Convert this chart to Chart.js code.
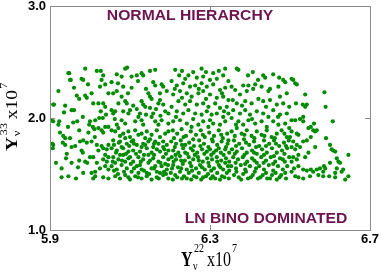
<!DOCTYPE html>
<html>
<head>
<meta charset="utf-8">
<script src="https://cdn.jsdelivr.net/npm/chart.js@4.4.1/dist/chart.umd.min.js"></script>
<style>
  html, body { margin: 0; padding: 0; background: #fff; }
  canvas { display: block; }
</style>
</head>
<body>
<canvas id="grafico" width="381" height="273"></canvas>
<script>
// Ticks dos eixos
const xTicks = [5.9, 6.3, 6.7];
const yTicks = [1.0, 2.0, 3.0];

// Pontos [Yv22, Yv33], separados por faixa de x
const faixa590 = [
  [5.988,2.44],[6.017,2.42],[6.027,2.42],[5.948,2.40],[6.033,2.38],[6.029,2.34],[6.038,2.30],[6.025,2.28],
  [5.979,2.35],[5.983,2.34],[5.952,2.34],[5.921,2.24],[5.967,2.20],[5.973,2.17],[5.988,2.20],[5.992,2.18],
  [6.004,2.22],[6.046,2.22],[5.910,2.12],[5.938,2.11],[5.935,2.05],[6.008,2.13],[6.021,2.13],[6.033,2.13],
  [6.038,2.10],[5.954,2.07],[5.960,2.07],[5.982,2.01],[5.908,1.97],[5.923,1.97],[5.921,1.94],[5.958,1.96],
  [5.968,1.97],[6.000,1.97],[6.013,1.98],[6.023,2.00],[6.032,2.00],[5.998,1.94],[6.007,1.92],[6.011,1.90],
  [6.021,1.91],[6.029,1.89],[6.033,1.87],[6.046,1.92],[6.038,1.92],[5.973,1.89],[5.933,1.84],[5.938,1.82],
  [5.950,1.82],[5.932,1.78],[5.938,1.76],[5.908,1.76],[5.907,1.73],[5.975,1.79],[5.983,1.80],[5.992,1.78],
  [6.004,1.79],[5.954,1.74],[5.963,1.75],[6.029,1.75],[6.033,1.73],[6.042,1.72],[6.046,1.76],[6.021,1.71],
  [6.017,1.76],[5.979,1.71],[5.982,1.69],[5.942,1.68],[5.940,1.64],[6.000,1.65],[6.008,1.65],[6.038,1.67],
  [6.046,1.65],[6.033,1.63],[6.042,1.61],[5.954,1.60],[5.973,1.62],[5.988,1.61],[5.993,1.60],[6.017,1.60],
  [5.929,1.55],[6.025,1.55],[6.038,1.57],[6.046,1.54],[6.013,1.52],[6.004,1.51],[6.013,1.48],[5.929,1.47],
  [5.946,1.48],[5.965,1.46],[5.983,1.51],[6.008,1.46],[6.033,1.47],[6.046,1.46],[5.904,1.98],[5.906,1.77],
  [5.908,2.12],[5.946,2.40],[5.950,2.34],
  [5.915,1.60],[5.925,1.87],[5.945,1.92],[5.960,2.27],[5.995,2.30],[6.012,1.83],[6.040,2.03],[5.970,1.56],
  [6.027,2.06],[5.996,1.87]
];

const faixa605 = [
  [6.088,2.44],[6.093,2.45],[6.067,2.39],[6.079,2.37],[6.104,2.37],[6.117,2.38],[6.129,2.40],[6.133,2.38],
  [6.150,2.42],[6.163,2.43],[6.054,2.32],[6.104,2.27],[6.083,2.28],[6.158,2.32],[6.163,2.29],[6.179,2.30],
  [6.183,2.28],[6.175,2.22],[6.192,2.24],[6.058,2.22],[6.067,2.24],[6.079,2.19],[6.088,2.15],[6.092,2.13],
  [6.146,2.22],[6.150,2.19],[6.154,2.17],[6.129,2.15],[6.133,2.12],[6.138,2.10],[6.171,2.13],[6.175,2.16],
  [6.183,2.12],[6.071,2.13],[6.054,2.07],[6.063,2.06],[6.058,2.04],[6.083,2.06],[6.096,2.04],[6.100,2.07],
  [6.117,2.08],[6.125,2.04],[6.121,2.01],[6.150,2.09],[6.158,2.04],[6.154,2.01],[6.188,2.06],[6.196,2.04],
  [6.079,1.98],[6.088,1.95],[6.067,1.94],[6.113,1.97],[6.129,1.98],[6.133,1.94],[6.163,1.97],[6.171,1.94],
  [6.179,1.98],[6.196,1.95],
  [6.070,2.31],[6.120,2.33],[6.140,2.26],[6.095,2.22],[6.165,2.08],[6.108,2.11],[6.140,2.03],[6.062,1.99],
  [6.176,2.02],
  [6.054,1.89],[6.063,1.88],[6.071,1.91],[6.083,1.86],[6.096,1.88],[6.100,1.83],[6.113,1.89],[6.121,1.85],
  [6.129,1.86],[6.138,1.82],[6.142,1.88],[6.154,1.85],[6.167,1.89],[6.175,1.83],[6.188,1.86],[6.196,1.88],
  [6.058,1.80],[6.075,1.79],[6.088,1.82],[6.092,1.77],[6.104,1.79],[6.117,1.76],[6.133,1.77],[6.146,1.79],
  [6.158,1.74],[6.171,1.77],[6.183,1.79],[6.192,1.76],[6.054,1.73],[6.067,1.71],[6.079,1.74],[6.096,1.70],
  [6.108,1.71],[6.125,1.70],[6.142,1.73],[6.154,1.69],[6.175,1.70],[6.196,1.71],[6.083,1.73],[6.129,1.74],
  [6.167,1.72],[6.183,1.74],[6.075,1.84],[6.108,1.80],[6.150,1.81],[6.163,1.79],
  [6.058,1.65],[6.071,1.63],[6.083,1.67],[6.096,1.64],[6.108,1.61],[6.121,1.65],[6.133,1.63],[6.146,1.60],
  [6.158,1.64],[6.171,1.61],[6.183,1.65],[6.196,1.63],[6.054,1.57],[6.067,1.54],[6.079,1.58],[6.092,1.55],
  [6.104,1.52],[6.117,1.57],[6.129,1.54],[6.142,1.51],[6.154,1.55],[6.167,1.52],[6.179,1.57],[6.192,1.54],
  [6.063,1.48],[6.075,1.46],[6.088,1.49],[6.100,1.45],[6.113,1.48],[6.129,1.46],[6.142,1.48],[6.154,1.45],
  [6.167,1.47],[6.183,1.49],[6.196,1.46],[6.088,1.61],[6.125,1.58],[6.163,1.57],[6.188,1.59],[6.100,1.65],
  [6.146,1.67],[6.075,1.67],[6.175,1.51],[6.121,1.51],[6.063,1.60],
  [6.060,1.76],[6.072,1.78],[6.098,1.75],[6.110,1.77],[6.138,1.76],[6.160,1.77],[6.186,1.72],[6.065,1.69],
  [6.090,1.68],[6.115,1.68],[6.135,1.67],[6.160,1.67],[6.190,1.68],[6.057,1.61],[6.080,1.62],[6.102,1.59],
  [6.127,1.61],[6.150,1.62],[6.176,1.60],[6.195,1.58],[6.060,1.53],[6.085,1.52],[6.110,1.55],[6.135,1.53],
  [6.160,1.55],[6.185,1.52],[6.070,1.50],[6.096,1.47],[6.120,1.47],[6.148,1.50],[6.172,1.46],[6.190,1.50]
];

const faixa620 = [
  [6.279,2.44],[6.338,2.44],[6.258,2.41],[6.213,2.43],[6.308,2.40],[6.223,2.38],[6.246,2.38],[6.238,2.35],
  [6.267,2.36],[6.283,2.37],[6.300,2.34],[6.317,2.35],[6.333,2.38],[6.346,2.33],[6.204,2.33],[6.217,2.29],
  [6.233,2.31],[6.250,2.28],[6.263,2.29],[6.279,2.31],[6.292,2.28],[6.308,2.30],[6.325,2.25],[6.338,2.27],
  [6.208,2.21],[6.225,2.24],[6.242,2.22],[6.254,2.19],[6.271,2.22],[6.283,2.24],[6.300,2.21],[6.317,2.18],
  [6.333,2.19],[6.346,2.16],[6.221,2.15],[6.238,2.12],[6.250,2.15],[6.267,2.12],[6.283,2.13],[6.296,2.10],
  [6.313,2.13],[6.325,2.09],[6.342,2.10],[6.204,2.10],[6.217,2.06],[6.233,2.04],[6.246,2.07],[6.263,2.04],
  [6.279,2.03],[6.292,2.06],[6.304,2.03],[6.317,2.04],[6.333,2.01],[6.346,2.04],[6.208,1.97],[6.225,1.98],
  [6.242,1.95],[6.254,1.92],[6.271,1.94],[6.283,1.97],[6.296,1.92],[6.308,1.95],[6.325,1.94],[6.338,1.97],
  [6.230,2.42],[6.290,2.41],[6.322,2.42],[6.212,2.26],[6.272,2.26],[6.330,2.22],[6.230,2.18],[6.290,2.17],
  [6.215,2.01],[6.258,1.99],[6.300,1.98],[6.335,2.06],
  [6.207,1.89],[6.218,1.86],[6.229,1.90],[6.240,1.84],[6.252,1.88],[6.265,1.85],[6.277,1.89],[6.287,1.83],
  [6.298,1.87],[6.310,1.84],[6.322,1.89],[6.332,1.82],[6.343,1.86],[6.203,1.79],[6.215,1.77],[6.227,1.80],
  [6.238,1.76],[6.248,1.78],[6.260,1.75],[6.273,1.80],[6.285,1.77],[6.296,1.74],[6.307,1.79],[6.318,1.76],
  [6.329,1.79],[6.340,1.74],[6.208,1.71],[6.221,1.69],[6.233,1.73],[6.243,1.68],[6.257,1.71],[6.268,1.69],
  [6.280,1.72],[6.292,1.70],[6.303,1.67],[6.315,1.71],[6.327,1.69],[6.338,1.72],[6.348,1.69],
  [6.204,1.65],[6.215,1.63],[6.225,1.66],[6.237,1.62],[6.247,1.65],[6.258,1.63],[6.270,1.65],[6.282,1.61],
  [6.293,1.64],[6.305,1.63],[6.317,1.65],[6.328,1.62],[6.340,1.64],[6.348,1.61],[6.208,1.58],[6.220,1.56],
  [6.232,1.59],[6.242,1.54],[6.253,1.57],[6.265,1.55],[6.275,1.58],[6.287,1.54],[6.298,1.57],[6.310,1.55],
  [6.322,1.58],[6.333,1.54],[6.345,1.57],[6.202,1.51],[6.213,1.49],[6.225,1.52],[6.235,1.48],[6.247,1.51],
  [6.260,1.48],[6.272,1.51],[6.283,1.47],[6.295,1.50],[6.307,1.48],[6.318,1.51],[6.330,1.48],[6.342,1.51],
  [6.207,1.45],[6.230,1.46],[6.253,1.45],[6.278,1.45],[6.302,1.46],[6.325,1.45],[6.347,1.46],
  [6.210,1.82],[6.234,1.83],[6.258,1.81],[6.282,1.85],[6.305,1.81],[6.328,1.85],[6.346,1.80],[6.212,1.74],
  [6.230,1.76],[6.252,1.73],[6.276,1.75],[6.300,1.72],[6.322,1.73],[6.344,1.77],[6.214,1.67],[6.238,1.69],
  [6.262,1.67],[6.286,1.68],[6.309,1.69],[6.334,1.67],[6.209,1.61],[6.228,1.62],[6.250,1.60],[6.272,1.62],
  [6.296,1.60],[6.318,1.61],[6.338,1.60],[6.205,1.55],[6.228,1.55],[6.255,1.53],[6.280,1.56],[6.303,1.53],
  [6.326,1.56],[6.348,1.53],[6.218,1.47],[6.242,1.46],[6.266,1.47],[6.290,1.48],[6.313,1.46],[6.336,1.47]
];

const faixa635 = [
  [6.367,2.44],[6.371,2.43],[6.407,2.41],[6.433,2.38],[6.438,2.36],[6.458,2.39],[6.473,2.36],[6.483,2.34],
  [6.488,2.32],[6.450,2.26],[6.471,2.28],[6.396,2.29],[6.413,2.30],[6.383,2.29],[6.354,2.28],[6.363,2.25],
  [6.375,2.21],[6.392,2.24],[6.408,2.26],[6.429,2.28],[6.446,2.24],[6.475,2.19],[6.492,2.22],[6.357,2.16],
  [6.367,2.13],[6.388,2.15],[6.404,2.13],[6.421,2.17],[6.433,2.15],[6.450,2.16],[6.467,2.12],[6.483,2.13],
  [6.498,2.10],[6.358,2.07],[6.375,2.04],[6.388,2.07],[6.400,2.03],[6.417,2.06],[6.433,2.04],[6.446,2.01],
  [6.458,2.07],[6.475,2.03],[6.492,2.04],[6.354,2.00],[6.371,1.97],[6.383,1.94],[6.396,1.98],[6.413,1.95],
  [6.429,1.97],[6.442,1.92],[6.458,1.97],[6.471,1.94],[6.488,1.95],[6.498,1.91],
  [6.395,2.38],[6.420,2.34],[6.380,2.11],[6.440,2.10],[6.470,2.01],[6.405,1.99],[6.365,1.94],
  [6.354,1.88],[6.367,1.91],[6.379,1.86],[6.392,1.89],[6.404,1.84],[6.417,1.88],[6.429,1.85],[6.442,1.89],
  [6.454,1.83],[6.467,1.86],[6.479,1.89],[6.492,1.83],[6.360,1.80],[6.373,1.77],[6.385,1.81],[6.398,1.76],
  [6.410,1.79],[6.423,1.75],[6.435,1.80],[6.448,1.77],[6.460,1.80],[6.473,1.75],[6.485,1.78],[6.497,1.80],
  [6.355,1.72],[6.367,1.70],[6.380,1.73],[6.392,1.69],[6.405,1.71],[6.417,1.68],[6.430,1.72],[6.442,1.69],
  [6.455,1.73],[6.467,1.69],[6.480,1.71],[6.493,1.73],
  [6.358,1.65],[6.370,1.63],[6.382,1.65],[6.393,1.61],[6.405,1.64],[6.417,1.60],[6.428,1.65],[6.440,1.62],
  [6.452,1.65],[6.463,1.61],[6.475,1.64],[6.487,1.61],[6.498,1.65],[6.353,1.57],[6.365,1.55],[6.377,1.58],
  [6.388,1.54],[6.400,1.57],[6.412,1.52],[6.423,1.57],[6.435,1.54],[6.447,1.58],[6.458,1.53],[6.470,1.57],
  [6.482,1.54],[6.493,1.57],[6.360,1.49],[6.372,1.47],[6.383,1.50],[6.395,1.46],[6.407,1.49],[6.420,1.46],
  [6.432,1.49],[6.443,1.46],[6.455,1.49],[6.467,1.45],[6.478,1.49],[6.490,1.46],
  [6.362,1.84],[6.386,1.85],[6.411,1.82],[6.436,1.84],[6.462,1.82],[6.486,1.86],[6.365,1.75],[6.390,1.78],
  [6.415,1.74],[6.440,1.75],[6.465,1.77],[6.490,1.75],[6.362,1.68],[6.386,1.67],[6.410,1.69],[6.435,1.67],
  [6.460,1.66],[6.486,1.68],[6.364,1.60],[6.388,1.59],[6.411,1.62],[6.434,1.60],[6.458,1.59],[6.482,1.63],
  [6.366,1.52],[6.390,1.52],[6.415,1.55],[6.440,1.51],[6.464,1.51],[6.488,1.51],[6.378,1.45],[6.402,1.47],
  [6.426,1.47],[6.450,1.46],[6.474,1.47]
];

const faixa650 = [
  [6.504,2.35],[6.508,2.34],[6.513,2.31],[6.517,2.30],[6.538,2.21],[6.586,2.23],[6.515,2.13],[6.532,2.12],
  [6.542,2.12],[6.538,2.10],[6.589,2.10],[6.533,2.01],[6.525,1.99],[6.533,1.97],[6.504,1.98],[6.513,1.98],
  [6.607,1.97],[6.560,1.95],[6.546,1.91],[6.552,1.92],[6.558,1.89],[6.563,1.88],[6.567,1.89],[6.504,1.88],
  [6.517,1.86],[6.521,1.85],[6.500,1.83],[6.542,1.80],[6.533,1.79],[6.552,1.83],[6.590,1.82],[6.508,1.79],
  [6.517,1.76],[6.504,1.74],[6.513,1.72],[6.525,1.74],[6.600,1.76],[6.604,1.72],[6.613,1.70],[6.608,1.71],
  [6.563,1.74],[6.546,1.69],[6.538,1.65],[6.521,1.67],[6.508,1.65],[6.517,1.63],[6.504,1.61],[6.617,1.64],
  [6.621,1.61],[6.625,1.60],[6.646,1.67],[6.600,1.60],[6.521,1.57],[6.510,1.55],[6.504,1.52],[6.533,1.54],
  [6.542,1.53],[6.552,1.54],[6.558,1.52],[6.567,1.54],[6.575,1.55],[6.585,1.57],[6.588,1.55],[6.583,1.52],
  [6.617,1.55],[6.613,1.51],[6.629,1.52],[6.633,1.54],[6.513,1.48],[6.521,1.47],[6.533,1.46],[6.550,1.48],
  [6.571,1.49],[6.583,1.48],[6.598,1.48],[6.613,1.47],[6.646,1.48],[6.638,1.45]
];

const corPonto = 'rgb(0, 140, 0)';
const corTexto = '#6e1450';

// Desenha o título "Yν^sup x10^7" a partir da origem atual
function desenharTitulo(ctx, sup, supDy) {
    ctx.fillStyle = '#000';
    ctx.textAlign = 'left';
    ctx.textBaseline = 'alphabetic';
    ctx.font = 'bold 16px "Liberation Serif"';
    ctx.fillText('Y', 0, 0);
    ctx.font = '10px "Liberation Serif"';
    ctx.fillText('\u03bd', 12, 3);
    ctx.fillText(sup, 13, supDy);
    ctx.font = '16px "Liberation Serif"';
    ctx.fillText('x10', 26, 0);
    ctx.font = '10px "Liberation Serif"';
    ctx.fillText('7', 51, supDy);
}

// Texto das anotações, um pouco alargado como na figura
function desenharAnotacao(ctx, texto, cx, base) {
    ctx.save();
    ctx.translate(cx, base);
    ctx.scale(1.12, 1);
    ctx.fillText(texto, 0, 0);
    ctx.restore();
}

// Moldura, marcas internas, títulos e anotações
const moldura = {
    id: 'moldura',
    afterDraw(chart) {
        const { ctx, chartArea: a, scales } = chart;
        ctx.save();
        ctx.strokeStyle = '#8a8a8a';
        ctx.lineWidth = 1;
        ctx.strokeRect(a.left + 0.5, a.top + 0.5, a.right - a.left, a.bottom - a.top);

        const ty = Math.round(scales.y.getPixelForValue(2.0)) + 0.5;
        const tx = Math.round(scales.x.getPixelForValue(6.3)) + 0.5;
        ctx.beginPath();
        ctx.moveTo(a.left, ty); ctx.lineTo(a.left + 5, ty);
        ctx.moveTo(a.right - 5, ty); ctx.lineTo(a.right, ty);
        ctx.moveTo(tx, a.bottom); ctx.lineTo(tx, a.bottom - 5);
        ctx.moveTo(tx, a.top); ctx.lineTo(tx, a.top + 5);
        ctx.stroke();

        // título do eixo x (esticado na vertical como na figura)
        ctx.save();
        ctx.translate(181, 266);
        ctx.scale(1, 1.27);
        desenharTitulo(ctx, '22', -11);
        ctx.restore();

        // título do eixo y
        ctx.save();
        ctx.translate(17, 151);
        ctx.rotate(-Math.PI / 2);
        ctx.scale(1.22, 1);
        desenharTitulo(ctx, '33', -10);
        ctx.restore();

        ctx.fillStyle = corTexto;
        ctx.font = 'bold 14px "Liberation Sans"';
        ctx.textAlign = 'center';
        ctx.textBaseline = 'alphabetic';
        desenharAnotacao(ctx, 'NORMAL HIERARCHY', 190, 20);
        desenharAnotacao(ctx, 'LN BINO DOMINATED', 266, 223);
        ctx.restore();
    }
};

const pontos = [...faixa590, ...faixa605, ...faixa620, ...faixa635, ...faixa650]
    .map(p => ({ x: p[0], y: p[1] }));

const fonteTicks = { family: '"Liberation Sans"', size: 13, weight: 'bold', lineHeight: 1 };

new Chart(document.getElementById('grafico'), {
    type: 'scatter',
    data: {
        datasets: [{
            data: pontos,
            pointRadius: 2.1,
            pointBackgroundColor: corPonto,
            pointBorderWidth: 0,
            pointHoverRadius: 2.1
        }]
    },
    options: {
        responsive: false,
        animation: false,
        devicePixelRatio: 1,
        layout: { padding: { top: 6, right: 11, left: 0, bottom: 0 } },
        plugins: { legend: { display: false }, tooltip: { enabled: false } },
        scales: {
            x: {
                type: 'linear',
                min: 5.9,
                max: 6.7,
                afterBuildTicks: s => { s.ticks = xTicks.map(v => ({ value: v })); },
                afterFit: s => { s.height = 43; s.paddingLeft = 0; s.paddingRight = 0; },
                ticks: {
                    callback: v => v.toFixed(1),
                    font: fonteTicks,
                    color: '#000',
                    padding: 3,
                    maxRotation: 0,
                    autoSkip: false
                },
                grid: { display: false, drawTicks: false },
                border: { display: false }
            },
            y: {
                type: 'linear',
                min: 1.0,
                max: 3.0,
                afterBuildTicks: s => { s.ticks = yTicks.map(v => ({ value: v })); },
                afterFit: s => { s.width = 50; s.paddingTop = 0; s.paddingBottom = 0; },
                ticks: {
                    callback: v => v.toFixed(1),
                    font: fonteTicks,
                    color: '#000',
                    padding: 4
                },
                grid: { display: false, drawTicks: false },
                border: { display: false }
            }
        }
    },
    plugins: [moldura]
});
</script>
</body>
</html>
